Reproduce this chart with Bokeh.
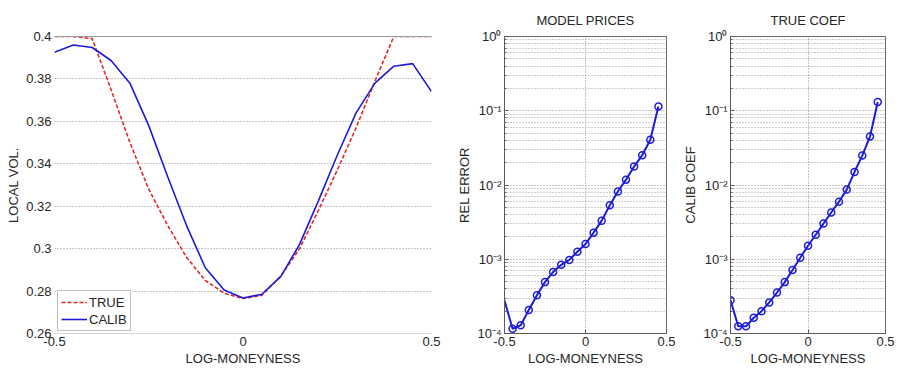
from bokeh.plotting import figure
from bokeh.layouts import row
from bokeh.models import (Range1d, FixedTicker, LinearAxis, Legend, LegendItem,
                          CustomJSTickFormatter)
from bokeh.embed import file_html
from bokeh.resources import INLINE

# ---- data -------------------------------------------------------------
moneyness = [-0.5, -0.45, -0.4, -0.35, -0.3, -0.25, -0.2, -0.15, -0.1, -0.05, 0.0,
             0.05, 0.1, 0.15, 0.2, 0.25, 0.3, 0.35, 0.4, 0.45, 0.5]
true_vol = [0.400, 0.400, 0.399, 0.375, 0.350, 0.328, 0.311, 0.296, 0.285, 0.279, 0.2765,
            0.278, 0.287, 0.300, 0.318, 0.337, 0.357, 0.379, 0.400, 0.400, 0.400]
calib_vol = [0.3926, 0.3960, 0.3948, 0.3887, 0.378, 0.358, 0.334, 0.311, 0.291, 0.2805, 0.2767,
             0.2785, 0.2868, 0.302, 0.3225, 0.344, 0.364, 0.378, 0.386, 0.3872, 0.374]

strikes = [-0.5, -0.45, -0.4, -0.35, -0.3, -0.25, -0.2, -0.15, -0.1, -0.05, 0.0,
           0.05, 0.1, 0.15, 0.2, 0.25, 0.3, 0.35, 0.4, 0.45]
rel_error = [2.77e-4, 1.16e-4, 1.29e-4, 2.07e-4, 3.27e-4, 4.92e-4, 6.73e-4, 8.41e-4, 9.8e-4,
             1.26e-3, 1.60e-3, 2.28e-3, 3.31e-3, 5.33e-3, 8.17e-3, 1.18e-2, 1.77e-2, 2.52e-2,
             4.06e-2, 0.114]
calib_coef = [2.81e-4, 1.25e-4, 1.25e-4, 1.63e-4, 2.0e-4, 2.62e-4, 3.56e-4, 4.92e-4, 7.16e-4,
              1.05e-3, 1.52e-3, 2.14e-3, 3.02e-3, 4.26e-3, 5.96e-3, 8.67e-3, 1.5e-2, 2.49e-2,
              4.49e-2, 0.131]

vol_ticks = [0.26, 0.28, 0.3, 0.32, 0.34, 0.36, 0.38, 0.4]
x_ticks = [-0.5, 0.0, 0.5]
decades = [1e-4, 1e-3, 1e-2, 1e-1, 1.0]

FONT = "Liberation Sans"
TXT = "#262626"
BLUE = "#1c1cd8"
RED = "#e02a2a"

plain_fmt = CustomJSTickFormatter(code="return String(Math.round(tick * 100) / 100);")
pow_fmt = CustomJSTickFormatter(code="""
const sup = {'-': '\\u207b', '0': '\\u2070', '1': '\\u00b9', '2': '\\u00b2',
             '3': '\\u00b3', '4': '\\u2074', '5': '\\u2075'};
const e = Math.round(Math.log10(tick));
return '10' + String(e).split('').map(c => sup[c]).join('');
""")


def style_axis(ax):
    ax.major_label_text_font = FONT
    ax.major_label_text_font_size = "13px"
    ax.major_label_text_color = TXT
    ax.axis_label_text_font = FONT
    ax.axis_label_text_font_size = "13px"
    ax.axis_label_text_font_style = "normal"
    ax.axis_label_text_color = TXT
    ax.major_tick_out = 0
    ax.minor_tick_out = 0
    ax.major_label_standoff = 3
    ax.axis_label_standoff = 2


# ---- local volatility panel ------------------------------------------
p1 = figure(width=450, height=370, x_range=Range1d(-0.5, 0.5), y_range=Range1d(0.26, 0.4),
            output_backend="svg", toolbar_location=None,
            min_border_left=54, min_border_right=19, min_border_top=36, min_border_bottom=37)
p1.outline_line_color = None
p1.background_fill_color = "white"
p1.border_fill_color = "white"

xb1 = p1.below[0]
yl1 = p1.left[0]
xb1.ticker = FixedTicker(ticks=x_ticks)
yl1.ticker = FixedTicker(ticks=vol_ticks)
xb1.formatter = plain_fmt
yl1.formatter = plain_fmt
xb1.axis_label = "LOG-MONEYNESS"
yl1.axis_label = "LOCAL VOL."
for ax in (xb1, yl1):
    style_axis(ax)
    ax.major_tick_in = 0
    ax.minor_tick_in = 0
yl1.axis_line_color = None
xb1.axis_line_color = "#d8d8d8"

top_axis = LinearAxis(ticker=FixedTicker(ticks=[]), axis_line_color="#9a9a9a",
                      major_label_text_alpha=0, major_tick_in=0, major_tick_out=0,
                      minor_tick_in=0, minor_tick_out=0)
p1.add_layout(top_axis, "above")

p1.xgrid.visible = False
p1.ygrid.grid_line_color = "#8a8a8a"
p1.ygrid.grid_line_dash = "1 2"

r_true = p1.line(moneyness, true_vol, line_color=RED, line_width=1.6, line_dash="4 2")
r_calib = p1.line(moneyness, calib_vol, line_color=BLUE, line_width=1.6)

legend = Legend(items=[LegendItem(label="TRUE", renderers=[r_true]),
                       LegendItem(label="CALIB", renderers=[r_calib])],
                location=(3, 2), border_line_color="#808080", border_line_width=1,
                label_text_font=FONT, label_text_font_size="13px", label_text_color=TXT,
                glyph_width=26, glyph_height=16, label_height=16, label_standoff=2,
                spacing=1, padding=3, margin=0, background_fill_alpha=1)
p1.add_layout(legend, "center")


# ---- log-scale error panels -----------------------------------------
def log_panel(title, ylabel, xs, ys, marker_xs, marker_ys, left, width):
    p = figure(width=width, height=370, x_range=Range1d(-0.5, 0.5), y_range=Range1d(1e-4, 1.0),
               y_axis_type="log", output_backend="svg", toolbar_location=None,
               min_border_left=left, min_border_right=14, min_border_top=31, min_border_bottom=37)
    p.outline_line_color = "#6a6a6a"
    p.background_fill_color = "white"
    p.border_fill_color = "white"

    xb = p.below[0]
    yl = p.left[0]
    minor = [k * d for d in decades[:-1] for k in range(2, 10)]
    xb.ticker = FixedTicker(ticks=x_ticks)
    yl.ticker = FixedTicker(ticks=decades, minor_ticks=minor)
    xb.formatter = plain_fmt
    yl.formatter = pow_fmt
    xb.axis_label = "LOG-MONEYNESS"
    yl.axis_label = ylabel
    for ax in (xb, yl):
        style_axis(ax)
        ax.major_tick_in = 4
        ax.minor_tick_in = 2
        ax.major_tick_line_color = "#5a5a5a"
        ax.minor_tick_line_color = "#5a5a5a"
        ax.axis_line_color = "#5a5a5a"
    xb.minor_tick_in = 0

    # panel heading, drawn as the label of a bare axis above the frame
    head = LinearAxis(ticker=FixedTicker(ticks=[]), axis_line_color=None, axis_label=title,
                      major_tick_in=0, major_tick_out=0, minor_tick_in=0, minor_tick_out=0)
    style_axis(head)
    head.major_label_standoff = 0
    head.axis_label_standoff = 9
    p.add_layout(head, "above")

    p.xgrid.grid_line_color = "#8a8a8a"
    p.xgrid.grid_line_dash = "1 2"
    p.ygrid.grid_line_color = "#8a8a8a"
    p.ygrid.grid_line_dash = "1 2"
    p.ygrid.minor_grid_line_color = "#9a9a9a"
    p.ygrid.minor_grid_line_dash = "1 2"

    p.line(xs, ys, line_color=BLUE, line_width=2)
    p.scatter(marker_xs, marker_ys, marker="circle", size=7, line_color=BLUE,
              line_width=1.5, fill_color=None)
    return p


p2 = log_panel("MODEL PRICES", "REL ERROR", strikes, rel_error,
               strikes[1:], rel_error[1:], 54, 230)
p3 = log_panel("TRUE COEF", "CALIB COEF", strikes, calib_coef,
               strikes, calib_coef, 44, 219)

layout = row(p1, p2, p3)
open("out.html", "w").write(file_html(layout, INLINE))
